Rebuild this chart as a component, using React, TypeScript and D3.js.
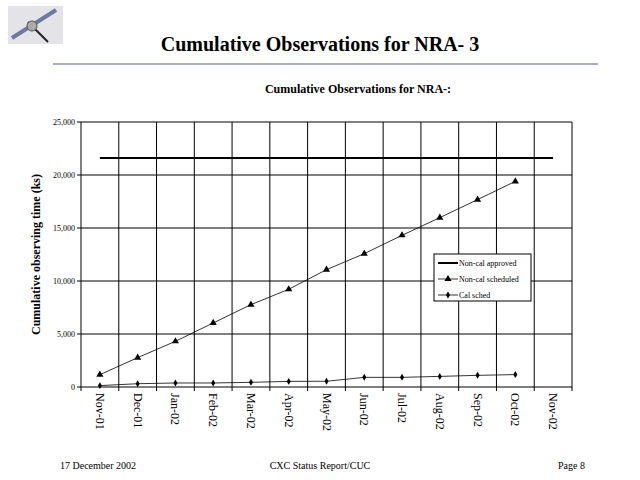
import React from "react";
import * as d3 from "d3";

const months = ["Nov-01","Dec-01","Jan-02","Feb-02","Mar-02","Apr-02","May-02","Jun-02","Jul-02","Aug-02","Sep-02","Oct-02","Nov-02"];
const approved = [21600,21600,21600,21600,21600,21600,21600,21600,21600,21600,21600,21600,21600];
const scheduled = [1160,2770,4310,6040,7770,9220,11070,12580,14310,15980,17680,19400];
const calSched = [130,310,380,380,440,530,540,910,910,1000,1100,1170];
const yTicks = [0,5000,10000,15000,20000,25000];

export default function App() {
  const L = 81, R = 572, T = 122, B = 387;
  const x = d3.scaleBand().domain(months).range([L, R]);
  const y = d3.scaleLinear().domain([0, 25000]).range([B, T]);
  const cx = (i: number) => (x(months[i]) as number) + x.bandwidth() / 2;
  const line = d3.line<number>().x((_, i) => cx(i)).y(d => y(d));
  const tri = d3.symbol().type(d3.symbolTriangle).size(22)();
  const dia = d3.symbol().type(d3.symbolDiamond).size(14)();
  const fmt = d3.format(",");
  const serif = "'Liberation Serif', 'Times New Roman', serif";
  return (
    <svg width={640} height={480} style={{ position: "absolute", left: 0, top: 0, background: "#fff" }} fontFamily={serif}>
      <rect width={640} height={480} fill="#fff" />
      <rect x={8} y={6} width={55} height={38} fill="#e4e4e8" />
      <line x1={12} y1={38} x2={56} y2={10} stroke="#6a7aa0" strokeWidth={4} />
      <line x1={28} y1={22} x2={48} y2={42} stroke="#222" strokeWidth={2} />
      <circle cx={32} cy={26} r={5} fill="#aaa" stroke="#555" />
      <text x={320} y={51} textAnchor="middle" fontSize={20} fontWeight="bold">Cumulative Observations for NRA- 3</text>
      <line x1={53} x2={598} y1={64} y2={64} stroke="#4a5f8f" strokeWidth={1} />
      <text x={358} y={93} textAnchor="middle" fontSize={12} fontWeight="bold">Cumulative Observations for NRA-:</text>
      {yTicks.map(t => (
        <g key={t}>
          <line x1={L} x2={R} y1={y(t)} y2={y(t)} stroke="#000" />
          <line x1={L - 4} x2={L} y1={y(t)} y2={y(t)} stroke="#000" />
          <text x={L - 6} y={y(t) + 3} textAnchor="end" fontSize={8}>{fmt(t)}</text>
        </g>
      ))}
      {months.map((m, i) => (
        <g key={m}>
          <line x1={x(m) as number} x2={x(m) as number} y1={T} y2={B + 4} stroke="#000" />
          <text transform={`translate(${cx(i) - 4},${B + 6}) rotate(90)`} fontSize={12}>{m}</text>
        </g>
      ))}
      <line x1={R} x2={R} y1={T} y2={B + 4} stroke="#000" />
      <text transform={`translate(40,${(T + B) / 2}) rotate(-90)`} textAnchor="middle" fontSize={12} fontWeight="bold">Cumulative observing time (ks)</text>
      <path d={line(approved) as string} fill="none" stroke="#000" strokeWidth={2} />
      <path d={line(scheduled) as string} fill="none" stroke="#000" strokeWidth={0.8} />
      {scheduled.map((v, i) => <path key={i} d={tri as string} transform={`translate(${cx(i)},${y(v)})`} fill="#000" />)}
      <path d={line(calSched) as string} fill="none" stroke="#000" strokeWidth={0.8} />
      {calSched.map((v, i) => <path key={i} d={dia as string} transform={`translate(${cx(i)},${y(v)})`} fill="#000" />)}
      <g transform="translate(434,254)">
        <rect width={97} height={47} fill="#fff" stroke="#000" />
        <line x1={4} x2={24} y1={9} y2={9} stroke="#000" strokeWidth={2} />
        <text x={25} y={12} fontSize={8}>Non-cal approved</text>
        <line x1={4} x2={24} y1={25} y2={25} stroke="#000" strokeWidth={0.8} />
        <path d={tri as string} transform="translate(14,25)" />
        <text x={25} y={28} fontSize={8}>Non-cal scheduled</text>
        <line x1={4} x2={24} y1={41} y2={41} stroke="#000" strokeWidth={0.8} />
        <path d={dia as string} transform="translate(14,41)" />
        <text x={25} y={44} fontSize={8}>Cal sched</text>
      </g>
      <text x={60} y={469} fontSize={10}>17 December 2002</text>
      <text x={320} y={469} textAnchor="middle" fontSize={10}>CXC Status Report/CUC</text>
      <text x={585} y={469} textAnchor="end" fontSize={10}>Page 8</text>
    </svg>
  );
}
